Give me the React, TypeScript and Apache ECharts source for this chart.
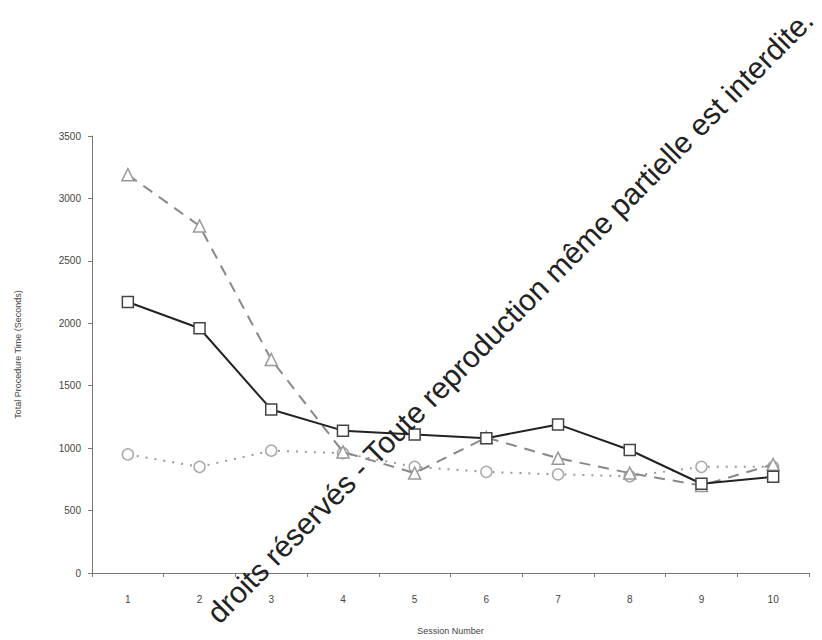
import React, { useEffect, useRef } from "react";
import * as echarts from "echarts";

const sessions = ["1", "2", "3", "4", "5", "6", "7", "8", "9", "10"];
const solidSquares = [2170, 1960, 1310, 1140, 1110, 1080, 1190, 985, 715, 770];
const dashedTriangles = [3190, 2780, 1710, 970, 800, 1085, 920, 800, 700, 870];
const dottedCircles = [950, 850, 980, 960, 850, 810, 790, 775, 850, 850];
const yTitle = "Total Procedure Time (Seconds)";
const xTitle = "Session Number";
const watermark = "droits réservés - Toute reproduction même partielle est interdite.";

export default function App() {
  const ref = useRef<HTMLDivElement>(null);
  useEffect(() => {
    if (!ref.current) return;
    const chart = echarts.init(ref.current, undefined, { renderer: "svg" });
    const ang = (45.3 * Math.PI) / 180;
    chart.setOption({
      animation: false,
      backgroundColor: "#ffffff",
      grid: { left: 92, right: 13, top: 136, bottom: 63, containLabel: false },
      xAxis: {
        type: "category",
        data: sessions,
        boundaryGap: true,
        name: xTitle,
        nameLocation: "middle",
        nameGap: 53,
        nameTextStyle: { fontSize: 9, color: "#444", fontFamily: "Liberation Sans" },
        axisLine: { show: true, lineStyle: { color: "#777", width: 1 } },
        axisTick: { show: true, alignWithLabel: false, length: 4, lineStyle: { color: "#777" } },
        axisLabel: { fontSize: 10, color: "#444", margin: 21, fontFamily: "Liberation Sans" },
        splitLine: { show: false },
      },
      yAxis: {
        type: "value",
        min: 0,
        max: 3500,
        interval: 500,
        name: yTitle,
        nameLocation: "middle",
        nameGap: 70,
        nameTextStyle: { fontSize: 9, color: "#444", fontFamily: "Liberation Sans" },
        axisLine: { show: true, lineStyle: { color: "#777", width: 1 } },
        axisTick: { show: true, length: 4, lineStyle: { color: "#777" } },
        axisLabel: {
          fontSize: 10,
          color: "#444",
          margin: 11,
          fontFamily: "Liberation Sans",
          formatter: (v: number) => String(v),
        },
        splitLine: { show: false },
      },
      series: [
        {
          type: "line",
          data: solidSquares,
          symbol: "rect",
          symbolSize: 11,
          lineStyle: { color: "#222", width: 2, type: "solid" },
          itemStyle: { color: "#ffffff", borderColor: "#444", borderWidth: 1.5 },
          z: 5,
        },
        {
          type: "line",
          data: dashedTriangles,
          symbol: "triangle",
          symbolSize: 12,
          lineStyle: { color: "#888", width: 2, type: [11, 8] },
          itemStyle: { color: "#ffffff", borderColor: "#999", borderWidth: 1.5 },
          z: 4,
        },
        {
          type: "line",
          data: dottedCircles,
          symbol: "circle",
          symbolSize: 11,
          lineStyle: { color: "#999", width: 2, type: [2, 7] },
          itemStyle: { color: "#ffffff", borderColor: "#aaa", borderWidth: 1.5 },
          z: 3,
        },
      ],
      graphic: [
        {
          type: "text",
          x: 808,
          y: 15,
          rotation: ang,
          z: 100,
          silent: true,
          style: {
            text: watermark,
            fontSize: 30,
            fontFamily: "Liberation Sans",
            fill: "#222",
            textAlign: "right",
            textVerticalAlign: "middle",
          },
        },
      ],
    });
    return () => chart.dispose();
  }, []);
  return <div ref={ref} style={{ width: 822, height: 640, position: "absolute", left: 0, top: 0 }} />;
}
